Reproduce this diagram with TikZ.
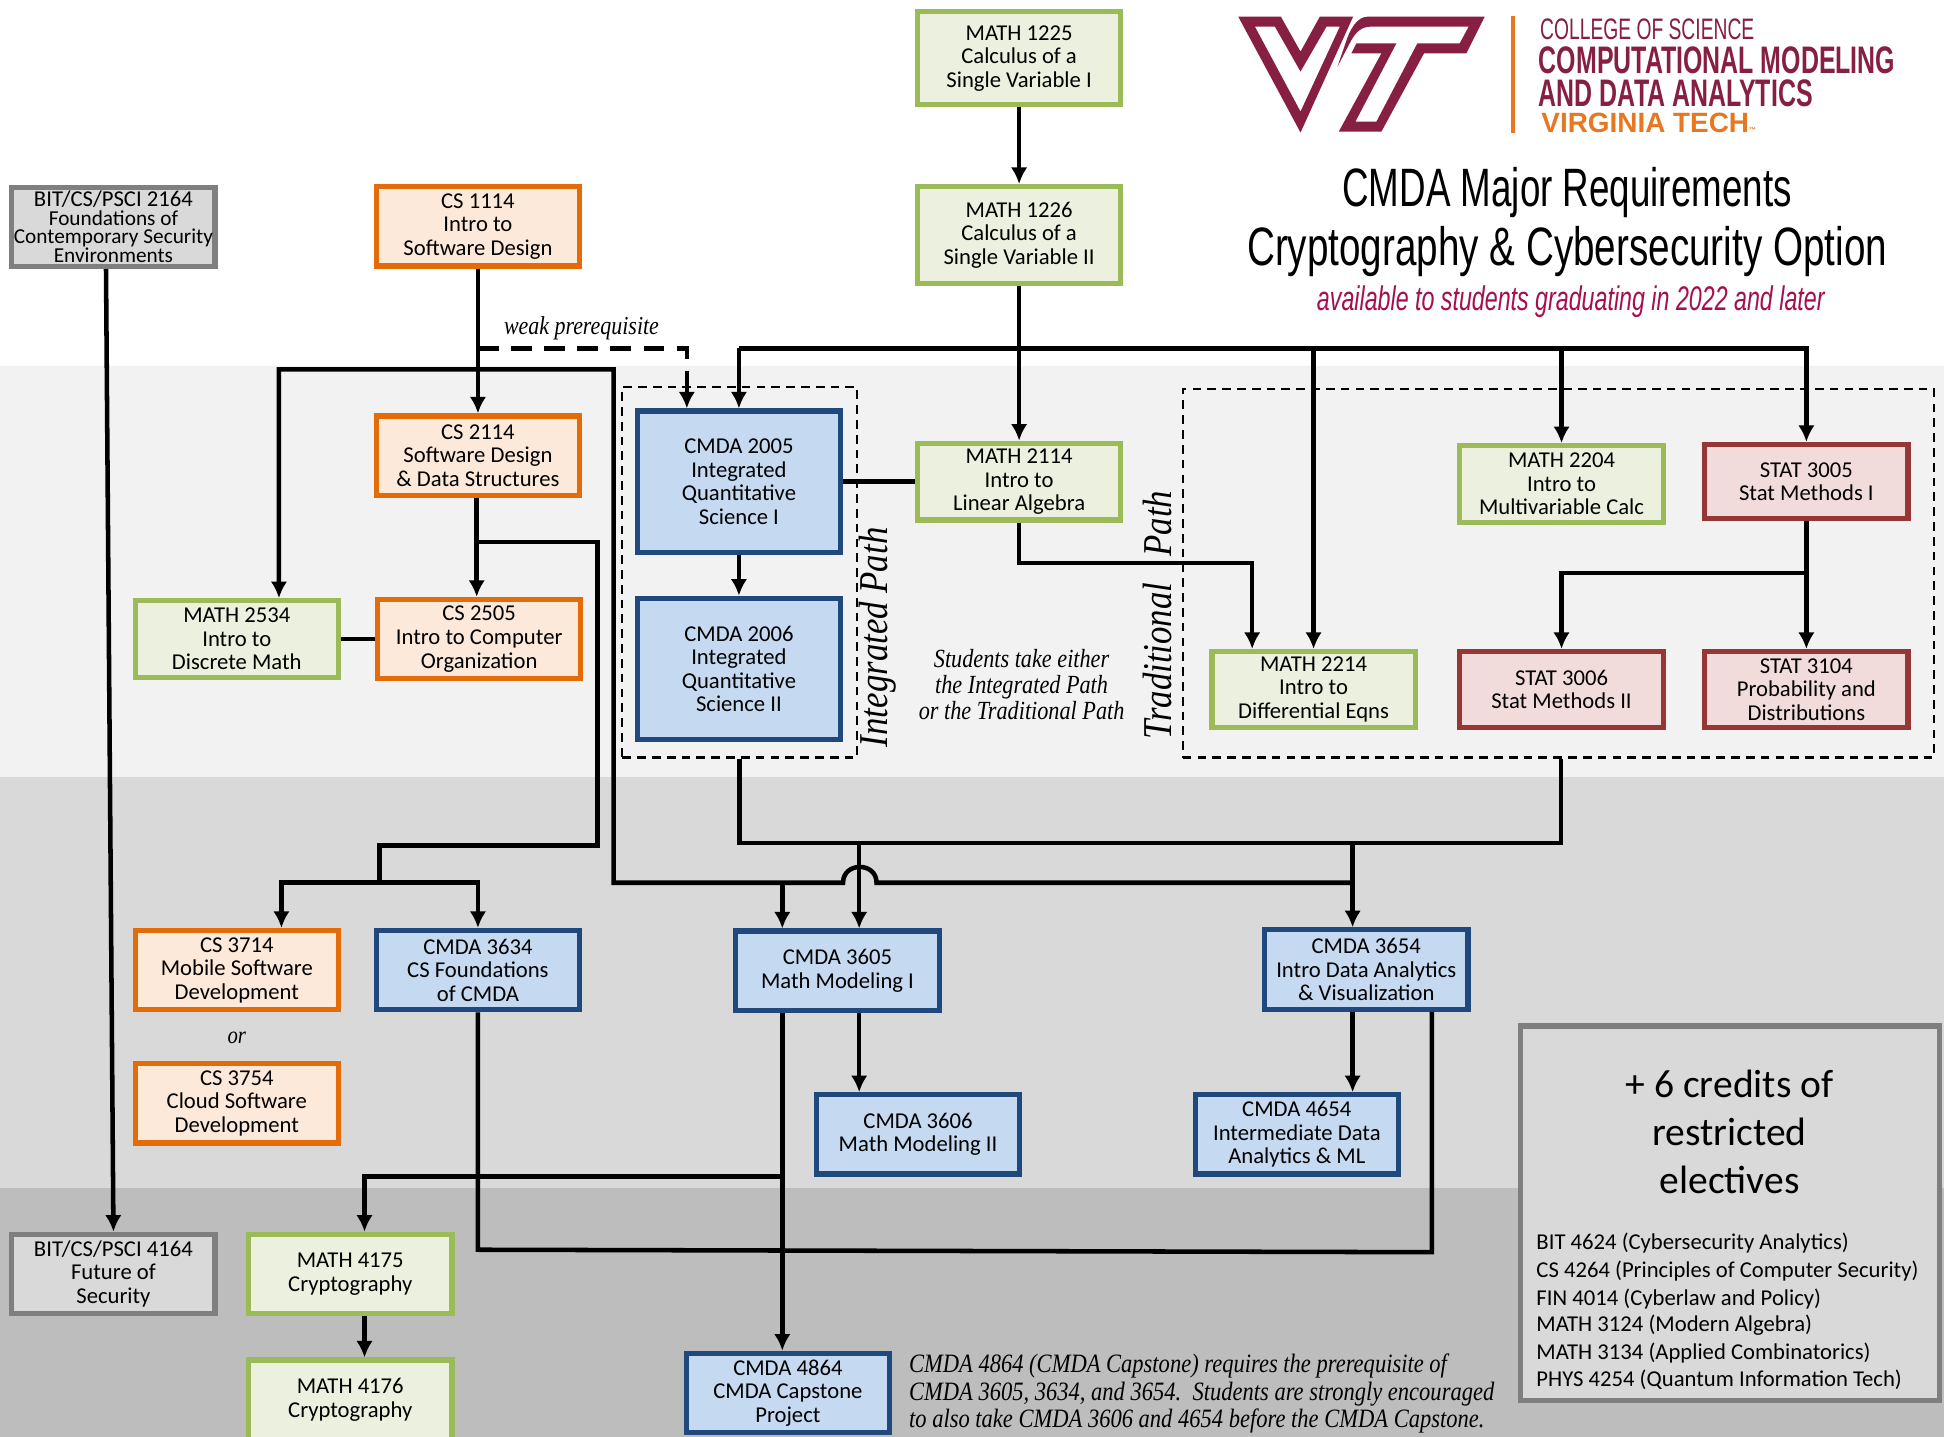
\documentclass[tikz,border=0pt]{standalone}
\usepackage{fontspec}
\setmainfont{Carlito}
\newfontfamily\condfont[FakeStretch=0.68]{Liberation Sans}
\newfontfamily\widecondfont[FakeStretch=0.715]{Liberation Sans}
\newfontfamily\logofont[FakeStretch=0.65]{Liberation Sans}
\newfontfamily\vtfont{Liberation Sans}
\newfontfamily\notefont[FakeStretch=0.85]{Liberation Serif}
\usepackage{xcolor}
\usetikzlibrary{arrows.meta}
\usetikzlibrary{calc}

\definecolor{vtmaroon}{HTML}{861F41}
\definecolor{vtorange}{HTML}{E87722}
\definecolor{subred}{HTML}{A50F50}

\tikzset{
  >={Latex[length=9.5pt,width=9.5pt]},
  course/.style={draw,line width=3pt,align=center,inner sep=0pt,
    minimum width=164*0.025cm,minimum height=64*0.025cm,
    font=\fontsize{13}{13.5}\selectfont},
  csbox/.style={course,draw={rgb,255:red,227;green,108;blue,9},fill={rgb,255:red,253;green,233;blue,217}},
  mathbox/.style={course,draw={rgb,255:red,155;green,187;blue,89},fill={rgb,255:red,235;green,241;blue,222}},
  cmdabox/.style={course,draw={rgb,255:red,31;green,73;blue,125},fill={rgb,255:red,197;green,217;blue,241}},
  statbox/.style={course,draw={rgb,255:red,149;green,55;blue,53},fill={rgb,255:red,242;green,220;blue,219}},
  greybox/.style={course,draw={rgb,255:red,127;green,127;blue,127},fill={rgb,255:red,217;green,217;blue,217}},
  conn/.style={line width=2.6pt,black},
  weakline/.style={conn,dash pattern=on 12pt off 7pt},
  pathbox/.style={draw,line width=1.2pt,dash pattern=on 5pt off 3.5pt,inner sep=0pt},
  note/.style={font=\notefont\itshape\fontsize{14}{15}\selectfont,align=center},
  pathname/.style={font=\notefont\itshape\fontsize{23.5}{23.5}\selectfont,rotate=90},
  elective/.style={anchor=west,inner sep=0pt,font=\fontsize{13}{13}\selectfont},
  logotext/.style={anchor=west,inner sep=0pt,text=vtmaroon}
}

\begin{document}
\begin{tikzpicture}[x=0.025cm,y=-0.025cm]
\useasboundingbox (0,0) rectangle (1568,1159);
\clip (0,0) rectangle (1568,1159);

% bands
\fill[white] (0,0) rectangle (1568,295);
\fill[black!5] (0,295) rectangle (1568,627);
\fill[black!15] (0,627) rectangle (1568,958);
\fill[black!26] (0,958) rectangle (1568,1159);

% logo
\begin{scope}[shift={(988,4)},x=0.00672cm,y=-0.00672cm]
\fill[vtmaroon,even odd rule] (40,35) -- (168,35) -- (227,140) -- (285,35) -- (385,35) -- (227,383) -- cycle
  (90,65) -- (150,65) -- (227,200) -- (305,65) -- (345,65) -- (227,320) -- cycle;
\fill[vtmaroon] (430,35) -- (780,35) -- (725,145) -- (598,145) -- (470,380) -- (342,380) -- (470,145) -- (380,145) -- (395,115)
  -- (515,115) -- (392,350) -- (455,350) -- (578,115) -- (705,115) -- (732,65) -- (440,65)
  .. controls (410,65) and (395,80) .. (380,105) -- (338,185) -- (362,115) .. controls (375,75) and (395,35) .. (430,35) -- cycle;
\end{scope}
\fill[vtorange] (1219,13) rectangle (1222,107);
\node[logotext,font=\logofont\fontsize{17}{17}\selectfont] (college) at (1242,24) {COLLEGE OF SCIENCE};
\node[logotext,font=\logofont\bfseries\fontsize{22}{22}\selectfont] (cmdaline) at (1241,49) {COMPUTATIONAL MODELING};
\node[logotext,font=\logofont\bfseries\fontsize{22}{22}\selectfont] (dataline) at (1241,75) {AND DATA ANALYTICS};
\node[logotext,text=vtorange,font=\vtfont\bfseries\fontsize{16}{16}\selectfont] (vtline) at (1243,99) {VIRGINIA TECH{\fontsize{4}{4}\selectfont ™}};

% title
\node[font=\condfont\fontsize{31}{31}\selectfont] (title1) at (1264,155) {CMDA Major Requirements};
\node[font=\widecondfont\fontsize{31}{31}\selectfont] (title2) at (1264,203) {Cryptography \& Cybersecurity Option};
\node[text=subred,font=\condfont\itshape\fontsize{19.6}{19.6}\selectfont] (subtitle) at (1267,243) {available to students graduating in 2022 and later};

% dashed groups
\node[pathbox,minimum width=189*0.025cm,minimum height=299*0.025cm] (intpath) at (596.5,461.5) {};
\node[pathbox,minimum width=606*0.025cm,minimum height=297*0.025cm] (tradpath) at (1257,462.5) {};

% courses
\node[mathbox,minimum height=75*0.025cm] (m1225) at (822,47) {MATH 1225\\Calculus of a\\Single Variable I};
\node[mathbox,minimum height=78*0.025cm] (m1226) at (822,189.5) {MATH 1226\\Calculus of a\\Single Variable II};
\node[greybox,font=\fontsize{12.2}{10.6}\selectfont] (bit2164) at (91.5,183) {{\fontsize{13}{10.6}\selectfont BIT/CS/PSCI 2164}\\Foundations of\\Contemporary Security\\Environments};
\node[csbox] (cs1114) at (385.5,182.5) {CS 1114\\Intro to\\Software Design};
\node[csbox] (cs2114) at (385.5,367.5) {CS 2114\\Software Design\\\& Data Structures};
\node[cmdabox,minimum height=114*0.025cm] (c2005) at (596,388.5) {CMDA 2005\\Integrated\\Quantitative\\Science I};
\node[cmdabox,minimum height=114*0.025cm] (c2006) at (596,539.5) {CMDA 2006\\Integrated\\Quantitative\\Science II};
\node[mathbox,minimum height=62*0.025cm] (m2534) at (191,515.5) {MATH 2534\\Intro to\\Discrete Math};
\node[csbox] (cs2505) at (386.5,515.5) {CS 2505\\Intro to Computer\\Organization};
\node[mathbox,minimum height=62*0.025cm] (m2114) at (822,388.5) {MATH 2114\\Intro to\\Linear Algebra};
\node[mathbox,minimum height=62*0.025cm] (m2204) at (1259.5,390.5) {MATH 2204\\Intro to\\Multivariable Calc};
\node[statbox,minimum height=60*0.025cm] (s3005) at (1457,388.5) {STAT 3005\\Stat Methods I};
\node[mathbox,minimum height=61*0.025cm] (m2214) at (1059.5,556) {MATH 2214\\Intro to\\Differential Eqns};
\node[statbox,minimum height=61*0.025cm] (s3006) at (1259.5,556) {STAT 3006\\Stat Methods II};
\node[statbox,minimum height=61*0.025cm] (s3104) at (1457,556) {STAT 3104\\Probability and\\Distributions};
\node[csbox] (cs3714) at (191,782.5) {CS 3714\\Mobile Software\\Development};
\node[cmdabox] (c3634) at (385.5,782.5) {CMDA 3634\\CS Foundations\\of CMDA};
\node[csbox] (cs3754) at (191,890) {CS 3754\\Cloud Software\\Development};
\node[cmdabox] (c3605) at (675.5,783) {CMDA 3605\\Math Modeling I};
\node[cmdabox] (c3606) at (740.5,915) {CMDA 3606\\Math Modeling II};
\node[cmdabox] (c3654) at (1102,782) {CMDA 3654\\Intro Data Analytics\\\& Visualization};
\node[cmdabox] (c4654) at (1046,915) {CMDA 4654\\Intermediate Data\\Analytics \& ML};
\node[greybox] (bit4164) at (91.5,1027.5) {BIT/CS/PSCI 4164\\Future of\\Security};
\node[mathbox] (m4175) at (282.5,1027.5) {MATH 4175\\Cryptography};
\node[mathbox] (m4176) at (282.5,1129) {MATH 4176\\Cryptography};
\node[cmdabox] (c4864) at (635.5,1123.5) {CMDA 4864\\CMDA Capstone\\Project};

% electives
\node[greybox,minimum width=338*0.025cm,minimum height=302*0.025cm] (elect) at (1395.5,978.5) {};
\node[font=\fontsize{22.7}{27.7}\selectfont,align=center] (electhead) at (1395,913) {+ 6 credits of\\restricted\\electives};
\foreach \name/\ypos/\txt in {e1/1003/BIT 4624 (Cybersecurity Analytics),e2/1025/CS 4264 (Principles of Computer Security),
  e3/1048/FIN 4014 (Cyberlaw and Policy),e4/1069/MATH 3124 (Modern Algebra),e5/1091/MATH 3134 (Applied Combinatorics),
  e6/1113/PHYS 4254 (Quantum Information Tech)}
  \node[elective] (\name) at (1239,\ypos) {\txt};

% notes
\node[note,font=\notefont\itshape\fontsize{14.8}{14.8}\selectfont] (weaklbl) at (469,265) {weak prerequisite};
\node[note] (orlbl) at (191,837) {or};
\node[note,font=\notefont\itshape\fontsize{15}{15}\selectfont] (eitherlbl) at (824,552) {Students take either\\the Integrated Path\\or the Traditional Path};
\node[pathname] (intlbl) at (708,514) {Integrated Path};
\node[pathname] (tradlbl) at (934,496) {Traditional\ \ \ Path};
\node[note,align=left,anchor=west,inner sep=0pt,font=\notefont\itshape\fontsize{15.2}{16}\selectfont] (capnote) at (733,1124)
  {CMDA 4864 (CMDA Capstone) requires the prerequisite of\\CMDA 3605, 3634, and 3654.\ \ Students are strongly encouraged\\to also take CMDA 3606 and 4654 before the CMDA Capstone.};

% free ends of the connectors
\coordinate (bita) at (85.5,217);
\coordinate (wkl) at (385.5,281);
\coordinate (wkr) at (554,281);
\coordinate (toprail) at (596,281);
\coordinate (dtop) at (225,298);
\coordinate (dcor) at (495,298);
\coordinate (dmid) at (495,712);
\coordinate (hopl) at (680,712);
\coordinate (hopr) at (707,712);
\coordinate (rbus) at (1091,712);
\coordinate (c5) at (631,712);
\coordinate (c5b) at (631,949);
\coordinate (c6) at (693,680);
\coordinate (c3) at (1091,680);
\coordinate (midr) at (1259,680);
\coordinate (m2b) at (1010,454);
\coordinate (s3b) at (1457,462);
\coordinate (cb) at (384.5,437);
\coordinate (cr) at (482,437);
\coordinate (cq) at (482,682);
\coordinate (cp) at (306,682);
\coordinate (cj) at (306,712);
\coordinate (cl) at (227,712);
\coordinate (m41) at (294,949);
\coordinate (loopa) at (1155,817);
\coordinate (loopb) at (1155,1010);
\coordinate (loopc) at (385.5,1008);

% connectors
\draw[conn,->] (bita |- bit2164.south) -- (bit4164.north);
\draw[conn,->] (m1225.south) -- (m1226.north);
\draw[conn,->] (m1226.south) -- (m2114.north);
\draw[conn,->] (cs1114.south) -- (cs2114.north);
\draw[weakline,->] (wkl) -- (wkr) -- (wkr |- c2005.north);
\draw[conn,->] (toprail) -- (c2005.north);
\draw[conn,->] (toprail) -| (s3005.north);
\draw[conn,->] (m2214.north |- toprail) -- (m2214.north);
\draw[conn,->] (m2204.north |- toprail) -- (m2204.north);
\draw[conn] (c2005.east) -- (m2114.west);
\draw[conn,->] (c2005.south) -- (c2006.north);
\draw[conn,->] (m2114.south) |- (m2b) -- (m2b |- m2214.north);
\draw[conn,->] (s3005.south) -- (s3104.north);
\draw[conn,->] (s3b) -| (s3006.north);
\draw[conn,<-] (dtop |- m2534.north) -- (dtop) -- (dcor) -- (dmid) -- (hopl) .. controls ($(hopl)+(0,-17)$) and ($(hopr)+(0,-17)$) .. (hopr) -- (rbus);
\draw[conn] (intpath.south) |- (midr) -- (tradpath.south -| midr);
\draw[conn,->] (c5) -- (c5 |- c3605.north);
\draw[conn,->] (c6) -- (c6 |- c3605.north);
\draw[conn,->] (c3) -- (c3 |- c3654.north);
\draw[conn,->] (cb |- cs2114.south) -- (cb |- cs2505.north);
\draw[conn] (cb) -- (cr) -- (cq) -- (cp) -- (cj);
\draw[conn,<->] (cl |- cs3714.north) -- (cl) -- (c3634.north |- cl) -- (c3634.north);
\draw[conn] (m2534.east) -- (cs2505.west);
\draw[conn,->] (c5 |- c3605.south) -- (c5 |- c4864.north);
\draw[conn,->] (c5b) -- (m41) -- (m41 |- m4175.north);
\draw[conn,->] (c6 |- c3605.south) -- (c6 |- c3606.north);
\draw[conn,->] (c3 |- c3654.south) -- (c3 |- c4654.north);
\draw[conn] (loopa |- c3654.south) -- (loopb) -- (loopc) -- (c3634.south);
\draw[conn,->] (m41 |- m4175.south) -- (m41 |- m4176.north);
\end{tikzpicture}
\end{document}
